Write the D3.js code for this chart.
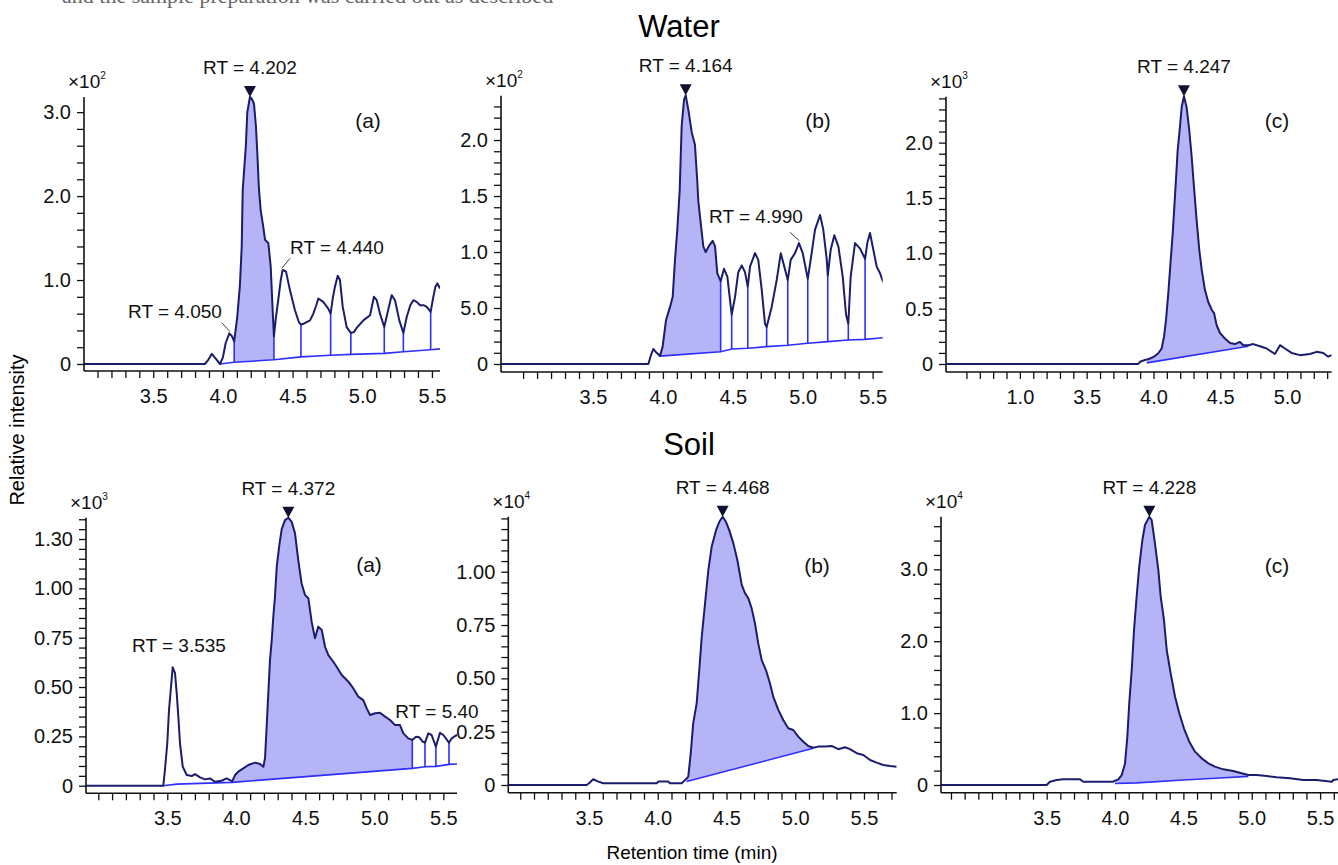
<!DOCTYPE html>
<html>
<head>
<meta charset="utf-8">
<script src="https://cdn.jsdelivr.net/npm/d3@7"></script>
<style>
  html, body { margin: 0; padding: 0; background: #fff; }
  svg { display: block; font-family: "Liberation Sans", Arial, Helvetica, sans-serif; }
</style>
</head>
<body>
<div id="chart"></div>
<script>
'use strict';

// retention time (min) and intensity (units of the panel's x10^n)
const waterA_t = [3.003, 3.87, 3.895, 3.92, 3.95, 3.979, 4.0, 4.02, 4.046, 4.065,
    4.081, 4.103, 4.122, 4.135, 4.142, 4.165, 4.175, 4.194, 4.21, 4.223,
    4.237, 4.247, 4.258, 4.271, 4.29, 4.302, 4.326, 4.343, 4.357, 4.366,
    4.38, 4.397, 4.415, 4.429, 4.453, 4.481, 4.517, 4.545, 4.56, 4.58,
    4.601, 4.625, 4.649, 4.67, 4.685, 4.72, 4.756, 4.773, 4.79, 4.804,
    4.824, 4.84, 4.86, 4.888, 4.918, 4.94, 4.96, 5.008, 5.056, 5.084,
    5.104, 5.127, 5.158, 5.18, 5.211, 5.235, 5.266, 5.295, 5.319, 5.345,
    5.367, 5.39, 5.415, 5.44, 5.463, 5.491, 5.51, 5.525, 5.539, 5.558];
const waterA_v = [0, 0, 0.05, 0.12, 0.06, 0.0, 0.08, 0.25, 0.365, 0.33,
    0.27, 0.56, 0.94, 1.40, 2.07, 2.61, 3.0, 3.18, 3.15, 3.10,
    2.83, 2.51, 2.1, 1.83, 1.63, 1.48, 1.44, 1.16, 0.64, 0.33,
    0.55, 0.76, 1.0, 1.12, 1.10, 0.88, 0.64, 0.50, 0.47, 0.48,
    0.50, 0.52, 0.60, 0.70, 0.78, 0.74, 0.66, 0.60, 0.80, 0.92,
    1.05, 1.0, 0.68, 0.44, 0.37, 0.38, 0.43, 0.52, 0.58, 0.80,
    0.76, 0.60, 0.44, 0.60, 0.82, 0.76, 0.52, 0.37, 0.56, 0.70,
    0.76, 0.74, 0.70, 0.70, 0.68, 0.62, 0.80, 0.92, 0.96, 0.90];
const waterA_baseT = [3.979, 4.081, 4.366, 4.56, 4.773, 4.918, 5.158, 5.295, 5.491, 5.558];
const waterA_baseV = [0.0, 0.02, 0.05, 0.085, 0.105, 0.115, 0.127, 0.146, 0.17, 0.18];
const waterA_fill = [4.081, 4.366];
const waterA_drops = [4.081, 4.366, 4.56, 4.773, 4.918, 5.158, 5.295, 5.491];

const waterB_t = [2.842, 3.896, 3.915, 3.931, 3.955, 3.979, 3.998, 4.022, 4.051, 4.07,
    4.087, 4.103, 4.12, 4.134, 4.151, 4.163, 4.182, 4.206, 4.229, 4.246,
    4.253, 4.265, 4.289, 4.306, 4.332, 4.356, 4.373, 4.389, 4.413, 4.437,
    4.461, 4.48, 4.492, 4.516, 4.539, 4.564, 4.587, 4.607, 4.623, 4.659,
    4.682, 4.707, 4.73, 4.742, 4.778, 4.814, 4.843, 4.866, 4.893, 4.914,
    4.945, 4.973, 5.0, 5.036, 5.064, 5.088, 5.124, 5.147, 5.172, 5.179,
    5.2, 5.226, 5.255, 5.286, 5.31, 5.326, 5.343, 5.374, 5.41, 5.446,
    5.462, 5.481, 5.505, 5.529, 5.553, 5.575];
const waterB_v = [0, 0, 0.08, 0.134, 0.1, 0.071, 0.155, 0.39, 0.51, 0.60,
    0.94, 1.20, 1.55, 2.12, 2.36, 2.40, 2.27, 2.07, 1.96, 1.63,
    1.46, 1.32, 1.05, 1.00, 1.06, 1.10, 1.05, 0.81, 0.74, 0.85,
    0.78, 0.57, 0.44, 0.60, 0.82, 0.88, 0.82, 0.69, 0.87, 0.99,
    0.93, 0.66, 0.36, 0.33, 0.51, 0.75, 0.99, 0.88, 0.75, 0.93,
    0.99, 1.08, 0.99, 0.76, 0.99, 1.20, 1.33, 1.20, 0.93, 0.79,
    1.02, 1.15, 1.05, 0.78, 0.44, 0.36, 0.78, 1.08, 1.03, 0.94,
    1.08, 1.17, 1.02, 0.87, 0.81, 0.73];
const waterB_baseT = [3.979, 4.413, 4.492, 4.607, 4.742, 4.893, 5.036, 5.179, 5.326, 5.446, 5.575];
const waterB_baseV = [0.07, 0.11, 0.134, 0.14, 0.155, 0.167, 0.185, 0.2, 0.214, 0.22, 0.235];
const waterB_fill = [3.979, 4.413];
const waterB_drops = [4.413, 4.492, 4.607, 4.742, 4.893, 5.036, 5.179, 5.326, 5.446];

const waterC_t = [2.447, 3.886, 3.899, 3.936, 3.95, 3.974, 4.004, 4.036, 4.061, 4.079,
    4.094, 4.111, 4.129, 4.144, 4.156, 4.168, 4.181, 4.198, 4.211, 4.228,
    4.248, 4.268, 4.286, 4.303, 4.323, 4.343, 4.361, 4.385, 4.41, 4.436,
    4.453, 4.473, 4.498, 4.535, 4.573, 4.61, 4.647, 4.672, 4.71, 4.747,
    4.797, 4.847, 4.909, 4.947, 4.984, 5.034, 5.097, 5.171, 5.221, 5.271,
    5.308, 5.334];
const waterC_v = [0, 0, 0.02, 0.036, 0.04, 0.05, 0.066, 0.097, 0.14, 0.247,
    0.40, 0.64, 0.94, 1.18, 1.42, 1.66, 1.93, 2.14, 2.32, 2.42,
    2.32, 2.11, 1.87, 1.60, 1.30, 1.03, 0.85, 0.67, 0.56, 0.49,
    0.46, 0.35, 0.28, 0.23, 0.19, 0.18, 0.20, 0.17, 0.17, 0.18,
    0.16, 0.14, 0.09, 0.17, 0.14, 0.10, 0.08, 0.09, 0.11, 0.10,
    0.066, 0.08];
const waterC_baseT = [3.95, 4.71];
const waterC_baseV = [0.01, 0.16];
const waterC_fill = [3.95, 4.71];
const waterC_drops = [];

const soilA_t = [2.91, 3.471, 3.483, 3.5, 3.512, 3.525, 3.539, 3.556, 3.568, 3.58,
    3.592, 3.612, 3.641, 3.677, 3.701, 3.737, 3.773, 3.809, 3.846, 3.894,
    3.93, 3.97, 3.991, 4.014, 4.051, 4.087, 4.136, 4.172, 4.196, 4.208,
    4.22, 4.232, 4.244, 4.257, 4.268, 4.28, 4.293, 4.312, 4.329, 4.353,
    4.377, 4.401, 4.425, 4.449, 4.473, 4.498, 4.522, 4.546, 4.57, 4.594,
    4.619, 4.643, 4.667, 4.703, 4.727, 4.764, 4.812, 4.848, 4.884, 4.92,
    4.945, 4.969, 5.005, 5.041, 5.078, 5.114, 5.15, 5.186, 5.21, 5.246,
    5.275, 5.302, 5.326, 5.35, 5.367, 5.391, 5.415, 5.446, 5.476, 5.5,
    5.541, 5.561, 5.585, 5.602];
const soilA_v = [0, 0, 0.08, 0.215, 0.38, 0.485, 0.60, 0.57, 0.47, 0.35,
    0.215, 0.096, 0.054, 0.049, 0.059, 0.042, 0.032, 0.037, 0.02, 0.025,
    0.037, 0.022, 0.054, 0.071, 0.088, 0.105, 0.117, 0.11, 0.096, 0.139,
    0.30, 0.47, 0.637, 0.74, 0.856, 0.957, 1.11, 1.22, 1.30, 1.346,
    1.358, 1.337, 1.28, 1.143, 1.025, 0.966, 0.95, 0.83, 0.747, 0.806,
    0.789, 0.704, 0.662, 0.628, 0.603, 0.561, 0.527, 0.493, 0.451, 0.434,
    0.392, 0.358, 0.367, 0.37, 0.35, 0.333, 0.307, 0.307, 0.265, 0.24,
    0.232, 0.248, 0.245, 0.223, 0.218, 0.265, 0.257, 0.198, 0.268, 0.257,
    0.218, 0.24, 0.252, 0.257];
const soilA_baseT = [3.471, 3.568, 3.97, 5.275, 5.367, 5.446, 5.541, 5.602];
const soilA_baseV = [0, 0.008, 0.017, 0.088, 0.096, 0.098, 0.108, 0.11];
const soilA_fill = [3.97, 5.275];
const soilA_drops = [5.275, 5.367, 5.446, 5.541];

const soilB_t = [2.913, 3.483, 3.5, 3.531, 3.568, 3.604, 3.992, 4.004, 4.077, 4.089,
    4.174, 4.198, 4.21, 4.222, 4.24, 4.258, 4.283, 4.302, 4.32, 4.344,
    4.368, 4.392, 4.424, 4.448, 4.472, 4.496, 4.52, 4.55, 4.579, 4.611,
    4.635, 4.659, 4.683, 4.707, 4.731, 4.756, 4.787, 4.816, 4.84, 4.877,
    4.913, 4.949, 4.986, 5.022, 5.059, 5.095, 5.131, 5.168, 5.216, 5.265,
    5.313, 5.362, 5.398, 5.447, 5.495, 5.544, 5.592, 5.64, 5.689, 5.738];
const soilB_v = [0, 0, 0.008, 0.027, 0.016, 0.008, 0.008, 0.016, 0.016, 0.008,
    0.008, 0.023, 0.03, 0.039, 0.149, 0.29, 0.383, 0.539, 0.695, 0.852,
    1.008, 1.117, 1.195, 1.234, 1.258, 1.234, 1.195, 1.133, 1.055, 0.938,
    0.899, 0.875, 0.828, 0.758, 0.664, 0.586, 0.539, 0.477, 0.414, 0.352,
    0.305, 0.266, 0.258, 0.227, 0.203, 0.183, 0.175, 0.18, 0.18, 0.183,
    0.168, 0.177, 0.168, 0.149, 0.141, 0.117, 0.105, 0.094, 0.089, 0.086];
const soilB_baseT = [4.21, 5.131];
const soilB_baseV = [0.016, 0.172];
const soilB_fill = [4.21, 5.131];
const soilB_drops = [];

const soilC_t = [2.727, 3.5, 3.524, 3.573, 3.621, 3.744, 3.768, 3.987, 4.0, 4.024,
    4.049, 4.073, 4.09, 4.104, 4.122, 4.139, 4.158, 4.177, 4.2, 4.219,
    4.251, 4.268, 4.292, 4.317, 4.334, 4.358, 4.378, 4.407, 4.439, 4.47,
    4.504, 4.543, 4.585, 4.634, 4.682, 4.731, 4.792, 4.865, 4.926, 4.975,
    5.036, 5.109, 5.182, 5.28, 5.377, 5.475, 5.585, 5.597, 5.631];
const soilC_v = [0, 0, 0.046, 0.07, 0.079, 0.079, 0.046, 0.046, 0.06, 0.079,
    0.139, 0.30, 0.67, 1.136, 1.60, 2.156, 2.619, 3.036, 3.408, 3.616,
    3.73, 3.686, 3.36, 2.99, 2.619, 2.295, 1.878, 1.553, 1.228, 0.997,
    0.789, 0.603, 0.464, 0.371, 0.302, 0.255, 0.218, 0.195, 0.163, 0.139,
    0.139, 0.125, 0.107, 0.093, 0.07, 0.07, 0.046, 0.07, 0.079];
const soilC_baseT = [4.0, 4.16, 4.5, 4.8, 4.975];
const soilC_baseV = [0.02, 0.03, 0.07, 0.1, 0.12];
const soilC_fill = [4.0, 4.975];
const soilC_drops = [];

// tick labels as printed on the figure
const xTicks = [3.5, 4.0, 4.5, 5.0, 5.5];
const xTickLabels = ['3.5', '4.0', '4.5', '5.0', '5.5'];
const xTicksWaterC = [3.0, 3.5, 4.0, 4.5, 5.0];
const xTickLabelsWaterC = ['1.0', '3.5', '4.0', '4.5', '5.0'];
const yTicksWaterA = [0, 1, 2, 3];
const yTickLabelsWaterA = ['0', '1.0', '2.0', '3.0'];
const yTicksWaterB = [0, 0.5, 1, 1.5, 2];
const yTickLabelsWaterB = ['0', '5.0', '1.0', '1.5', '2.0'];
const yTicksWaterC = [0, 0.5, 1, 1.5, 2];
const yTickLabelsWaterC = ['0', '0.5', '1.0', '1.5', '2.0'];
const yTicksSoilA = [0, 0.25, 0.5, 0.75, 1.0, 1.25];
const yTickLabelsSoilA = ['0', '0.25', '0.50', '0.75', '1.00', '1.30'];
const yTicksSoilB = [0, 0.25, 0.5, 0.75, 1.0];
const yTickLabelsSoilB = ['0', '0.25', '0.50', '0.75', '1.00'];
const yTicksSoilC = [0, 1, 2, 3];
const yTickLabelsSoilC = ['0', '1.0', '2.0', '3.0'];

const peakLabels = ['RT = 4.202', 'RT = 4.164', 'RT = 4.247', 'RT = 4.372', 'RT = 4.468', 'RT = 4.228'];
const panelTags = ['(a)', '(b)', '(c)', '(a)', '(b)', '(c)'];
const exponents = ['2', '2', '3', '3', '4', '4'];

const TRACE = '#1c1c6e';
const FILL = '#b4b4f6';
const BASE = '#2e2eff';

const panels = [
    {t: waterA_t, v: waterA_v, baseT: waterA_baseT, baseV: waterA_baseV, fill: waterA_fill, drops: waterA_drops,
     xTicks: xTicks, xLabels: xTickLabels, xMinorFrom: 3.1,
     yTicks: yTicksWaterA, yLabels: yTickLabelsWaterA, yMinor: 0.2,
     x0: 84, x1: 440, xd: [3.003, 5.558], y0: 364, yTop: 97, yd: [0, 3.18], axisY: 371,
     tag: [368, 128],
     notes: [{text: 'RT = 4.050', x: 175, y: 318, lead: [221.7, 322.7, 230, 331.7]},
             {text: 'RT = 4.440', x: 337, y: 254, lead: [281.7, 268.3, 290, 258.3]}]},
    {t: waterB_t, v: waterB_v, baseT: waterB_baseT, baseV: waterB_baseV, fill: waterB_fill, drops: waterB_drops,
     xTicks: xTicks, xLabels: xTickLabels, xMinorFrom: 3.0,
     yTicks: yTicksWaterB, yLabels: yTickLabelsWaterB, yMinor: 0.1,
     x0: 501, x1: 882.7, xd: [2.842, 5.572], y0: 364, yTop: 95.7, yd: [0, 2.396], axisY: 372,
     tag: [818, 128],
     notes: [{text: 'RT = 4.990', x: 756, y: 223, lead: [790, 232.3, 799.3, 240.7]}]},
    {t: waterC_t, v: waterC_v, baseT: waterC_baseT, baseV: waterC_baseV, fill: waterC_fill, drops: waterC_drops,
     xTicks: xTicksWaterC, xLabels: xTickLabelsWaterC, xMinorFrom: 2.6,
     yTicks: yTicksWaterC, yLabels: yTickLabelsWaterC, yMinor: 0.1,
     x0: 946, x1: 1331.7, xd: [2.447, 5.334], y0: 364, yTop: 96.7, yd: [0, 2.415], axisY: 372,
     tag: [1277, 128], notes: []},
    {t: soilA_t, v: soilA_v, baseT: soilA_baseT, baseV: soilA_baseV, fill: soilA_fill, drops: soilA_drops,
     xTicks: xTicks, xLabels: xTickLabels, xMinorFrom: 3.0,
     yTicks: yTicksSoilA, yLabels: yTickLabelsSoilA, yMinor: 0.05,
     x0: 86, x1: 457, xd: [2.911, 5.599], y0: 785.7, yTop: 517.7, yd: [0, 1.358], axisY: 793.3,
     tag: [369, 572],
     notes: [{text: 'RT = 3.535', x: 179, y: 652},
             {text: 'RT = 5.40', x: 437, y: 718}]},
    {t: soilB_t, v: soilB_v, baseT: soilB_baseT, baseV: soilB_baseV, fill: soilB_fill, drops: soilB_drops,
     xTicks: xTicks, xLabels: xTickLabels, xMinorFrom: 3.0,
     yTicks: yTicksSoilB, yLabels: yTickLabelsSoilB, yMinor: 0.05,
     x0: 508.3, x1: 896.7, xd: [2.913, 5.738], y0: 785, yTop: 516.7, yd: [0, 1.258], axisY: 792.7,
     tag: [817, 573], notes: []},
    {t: soilC_t, v: soilC_v, baseT: soilC_baseT, baseV: soilC_baseV, fill: soilC_fill, drops: soilC_drops,
     xTicks: xTicks, xLabels: xTickLabels, xMinorFrom: 2.8,
     yTicks: yTicksSoilC, yLabels: yTickLabelsSoilC, yMinor: 0.2,
     x0: 941, x1: 1338, xd: [2.727, 5.631], y0: 785, yTop: 516.7, yd: [0, 3.732], axisY: 792.7,
     tag: [1277, 573], notes: []}
];

const svg = d3.select('#chart').append('svg')
    .attr('width', 1338)
    .attr('height', 865);

draw();

function draw() {
    // line of body text above the figure, mostly cropped by the page edge in the source
    svg.append('text')
        .attr('x', 62).attr('y', 3)
        .style('font-family', '"Liberation Serif", "Times New Roman", serif')
        .style('font-size', '22px')
        .attr('fill', '#666')
        .text('and the sample preparation was carried out as described');

    svg.append('text').attr('x', 679).attr('y', 37)
        .attr('text-anchor', 'middle').style('font-size', '31px').text('Water');
    svg.append('text').attr('x', 689).attr('y', 455)
        .attr('text-anchor', 'middle').style('font-size', '31px').text('Soil');

    svg.append('text')
        .attr('transform', 'translate(24,430) rotate(-90)')
        .attr('text-anchor', 'middle').style('font-size', '20px')
        .text('Relative intensity');
    svg.append('text').attr('x', 692).attr('y', 859)
        .attr('text-anchor', 'middle').style('font-size', '19px')
        .text('Retention time (min)');

    panels.forEach(function (p, i) {
        drawPanel(p, i);
    });
}

function drawPanel(p, i) {
    let x = d3.scaleLinear().domain(p.xd).range([p.x0, p.x1]);
    let y = d3.scaleLinear().domain(p.yd).range([p.y0, p.yTop]);
    let line = d3.line().x(d => x(d[0])).y(d => y(d[1]));

    let pts = d3.zip(p.t, p.v);
    let base = d3.zip(p.baseT, p.baseV);
    let valueAt = (arr, t) => arr.find(d => Math.abs(d[0] - t) < 1e-9)[1];

    let g = svg.append('g');
    let clipId = 'clip' + i;
    g.append('clipPath').attr('id', clipId)
        .append('rect')
        .attr('x', p.x0).attr('y', p.yTop - 20)
        .attr('width', p.x1 - p.x0).attr('height', p.axisY - p.yTop + 20);
    let plot = g.append('g').attr('clip-path', 'url(#' + clipId + ')');

    // integrated area between trace and baseline
    let top = pts.filter(d => d[0] >= p.fill[0] - 1e-9 && d[0] <= p.fill[1] + 1e-9);
    let bottom = base.filter(d => d[0] >= p.fill[0] - 1e-9 && d[0] <= p.fill[1] + 1e-9).reverse();
    plot.append('path')
        .attr('d', line(top.concat(bottom)) + 'Z')
        .attr('fill', FILL);

    // baseline and drop lines
    plot.append('path')
        .attr('d', line(base))
        .attr('fill', 'none').attr('stroke', BASE).attr('stroke-width', 1.6);
    plot.selectAll('line.drop')
        .data(p.drops)
        .enter()
        .append('line')
        .attr('class', 'drop')
        .attr('x1', d => x(d)).attr('x2', d => x(d))
        .attr('y1', d => y(valueAt(base, d)))
        .attr('y2', d => y(valueAt(pts, d)))
        .attr('stroke', BASE).attr('stroke-width', 1.6);

    // chromatogram trace
    plot.append('path')
        .attr('d', line(pts))
        .attr('fill', 'none').attr('stroke', TRACE)
        .attr('stroke-width', 2).attr('stroke-linejoin', 'round');

    // axes
    let fmt = (ticks, labels) => d => {
        let k = ticks.findIndex(t => Math.abs(t - d) < 1e-6);
        return k < 0 ? '' : labels[k];
    };
    let yAll = d3.range(0, p.yd[1] + 1e-9, p.yMinor);
    let yAxis = d3.axisLeft(y)
        .tickValues(yAll)
        .tickFormat(fmt(p.yTicks, p.yLabels))
        .tickSize(7).tickSizeOuter(0).tickPadding(6);
    let ya = g.append('g').attr('transform', 'translate(' + p.x0 + ',0)').call(yAxis);

    let xAll = d3.range(p.xMinorFrom, p.xd[1] + 1e-9, 0.1);
    let xAxis = d3.axisBottom(x)
        .tickValues(xAll)
        .tickFormat(fmt(p.xTicks, p.xLabels))
        .tickSize(7).tickSizeOuter(0).tickPadding(11);
    let xa = g.append('g').attr('transform', 'translate(0,' + p.axisY + ')').call(xAxis);

    [ya, xa].forEach(function (a) {
        a.select('.domain').remove();
        a.selectAll('.tick line').attr('stroke', '#111').attr('stroke-width', 1.3);
        a.selectAll('.tick text')
            .attr('fill', '#111')
            .style('font-size', '20px')
            .style('font-family', '"Liberation Sans", Arial, sans-serif');
    });
    g.append('line')
        .attr('x1', p.x0).attr('x2', p.x0)
        .attr('y1', p.yTop).attr('y2', p.axisY)
        .attr('stroke', '#111').attr('stroke-width', 1.6);
    g.append('line')
        .attr('x1', p.x0).attr('x2', p.x1)
        .attr('y1', p.axisY).attr('y2', p.axisY)
        .attr('stroke', '#111').attr('stroke-width', 1.6);

    // exponent of the y scale
    let ex = g.append('text')
        .attr('x', p.x0 - 16).attr('y', p.yTop - 9)
        .style('font-size', '19px').attr('fill', '#111');
    ex.append('tspan').text('\u00d710');
    ex.append('tspan').attr('dy', -9).style('font-size', '10px').text(exponents[i]);

    // apex marker and retention time
    let k = d3.maxIndex(p.v);
    let px = x(p.t[k]), py = y(p.v[k]);
    g.append('path')
        .attr('d', 'M' + px + ',' + py + 'L' + (px - 6) + ',' + (py - 11) + 'L' + (px + 6) + ',' + (py - 11) + 'Z')
        .attr('fill', '#101030');
    g.append('text')
        .attr('x', px).attr('y', py - 23)
        .attr('text-anchor', 'middle')
        .style('font-size', '19px').attr('fill', '#111')
        .text(peakLabels[i]);

    g.append('text')
        .attr('x', p.tag[0]).attr('y', p.tag[1])
        .attr('text-anchor', 'middle')
        .style('font-size', '21px').attr('fill', '#111')
        .text(panelTags[i]);

    p.notes.forEach(function (n) {
        g.append('text')
            .attr('x', n.x).attr('y', n.y)
            .attr('text-anchor', 'middle')
            .style('font-size', '19px').attr('fill', '#111')
            .text(n.text);
        if (n.lead) {
            g.append('line')
                .attr('x1', n.lead[0]).attr('y1', n.lead[1])
                .attr('x2', n.lead[2]).attr('y2', n.lead[3])
                .attr('stroke', '#444').attr('stroke-width', 1);
        }
    });
}
</script>
</body>
</html>
